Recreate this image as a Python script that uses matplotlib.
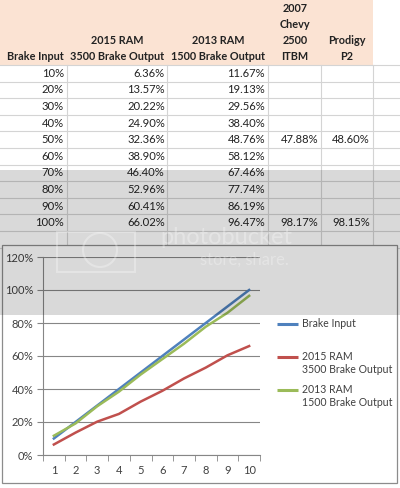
import matplotlib
matplotlib.use("Agg")
import matplotlib.pyplot as plt
from matplotlib.patches import Rectangle, Circle

brake_input = [10, 20, 30, 40, 50, 60, 70, 80, 90, 100]
ram_2015 = [6.36, 13.57, 20.22, 24.90, 32.36, 38.90, 46.40, 52.96, 60.41, 66.02]
ram_2013 = [11.67, 19.13, 29.56, 38.40, 48.76, 58.12, 67.46, 77.74, 86.19, 96.47]
chevy_2007 = [None, None, None, None, 47.88, None, None, None, None, 98.17]
prodigy_p2 = [None, None, None, None, 48.60, None, None, None, None, 98.15]
x_labels = [str(i) for i in range(1, 11)]
series_names = ["Brake Input", "2015 RAM\n3500 Brake Output", "2013 RAM\n1500 Brake Output"]

plt.rcParams['font.family'] = ['Lato', 'DejaVu Sans']

W, H = 400, 488
fig = plt.figure(figsize=(W / 100, H / 100), dpi=100)

# background axis in pixel coords for the spreadsheet part
bg = fig.add_axes([0, 0, 1, 1])
bg.set_xlim(0, W)
bg.set_ylim(H, 0)
bg.axis("off")

grid_col = "#d4d4d4"
txt_col = "#222222"
fs = 7.8

# header fill
bg.add_patch(Rectangle((0, 0), 373, 65, color="#fbe3d3", lw=0))

row_top = 65
row_h = 16.6
col_lines = [67, 167, 268, 321, 373]
for k in range(12):
    y = row_top + k * row_h
    bg.plot([0, W], [y, y], color=grid_col, lw=0.8)
for x in col_lines:
    bg.plot([x, x], [row_top, row_top + 11 * row_h], color=grid_col, lw=0.8)

# header text
hdr = dict(fontsize=fs, fontweight="bold", color=txt_col, va="center")
bg.text(64, 57, "Brake Input", ha="right", **hdr)
bg.text(117, 41, "2015 RAM", ha="center", **hdr)
bg.text(117, 57, "3500 Brake Output", ha="center", **hdr)
bg.text(218, 41, "2013 RAM", ha="center", **hdr)
bg.text(218, 57, "1500 Brake Output", ha="center", **hdr)
for yy, s in zip([8, 24, 41, 57], ["2007", "Chevy", "2500", "ITBM"]):
    bg.text(295, yy, s, ha="center", **hdr)
bg.text(347, 41, "Prodigy", ha="center", **hdr)
bg.text(347, 57, "P2", ha="center", **hdr)

cell = dict(fontsize=8.1, color=txt_col, va="center", ha="right")
for i in range(10):
    y = row_top + i * row_h + row_h / 2
    bg.text(64, y, f"{brake_input[i]}%", **cell)
    bg.text(165, y, f"{ram_2015[i]:.2f}%", **cell)
    bg.text(265, y, f"{ram_2013[i]:.2f}%", **cell)
    if chevy_2007[i] is not None:
        bg.text(318, y, f"{chevy_2007[i]:.2f}%", **cell)
    if prodigy_p2[i] is not None:
        bg.text(370, y, f"{prodigy_p2[i]:.2f}%", **cell)

# chart area box
bg.add_patch(Rectangle((2, 245), 395, 238, facecolor="white",
                       edgecolor="#8c8c8c", lw=0.9, zorder=3))

# the line chart
ax = fig.add_axes([43 / W, 1 - 455 / H, 217 / W, 198 / H], zorder=4)
ax.patch.set_alpha(0)
xs = list(range(1, 11))
colors = ["#4f81bd", "#c0504d", "#9bbb59"]
for vals, c in zip([brake_input, ram_2015, ram_2013], colors):
    ax.plot(xs, vals, color=c, lw=1.8)
ax.set_xlim(0.5, 10.5)
ax.set_ylim(0, 120)
ax.set_yticks(range(0, 121, 20))
ax.set_yticklabels([f"{v}%" for v in range(0, 121, 20)])
ax.set_xticks(xs)
ax.set_xticklabels(x_labels)
ax.set_xticks([i + 0.5 for i in range(0, 11)], minor=True)
ax.tick_params(axis="x", which="major", length=0, pad=7, labelsize=8, labelcolor="#404040")
ax.tick_params(axis="x", which="minor", length=4, color="#868686", direction="out")
ax.tick_params(axis="y", length=4, color="#868686", labelsize=8, labelcolor="#404040", pad=3)
ax.grid(axis="y", color="#868686", lw=0.8)
ax.set_axisbelow(True)
for s in ["top", "right"]:
    ax.spines[s].set_visible(False)
for s in ["left", "bottom"]:
    ax.spines[s].set_color("#868686")
    ax.spines[s].set_linewidth(0.8)

# legend, Excel style: key lines up with the first text line
for k, (name, c) in enumerate(zip(series_names, colors)):
    ly = 324 + 33 * k
    bg.plot([277, 298], [ly, ly], color=c, lw=2.2, zorder=5, solid_capstyle="butt")
    bg.text(302, ly - 6, name, fontsize=7.6, color="#404040", va="top", ha="left",
            linespacing=1.25, zorder=5)

# grey watermark band from the screenshot
ov = fig.add_axes([0, 0, 1, 1], zorder=10)
ov.set_xlim(0, W)
ov.set_ylim(H, 0)
ov.axis("off")
ov.patch.set_alpha(0)
ov.add_patch(Rectangle((0, 170), W, 145, color="black", alpha=0.15, lw=0))
ov.text(160, 238, "photobucket", fontsize=17, color="white", alpha=0.3,
        va="center", ha="left")
ov.text(200, 260, "store, share.", fontsize=12, color="white", alpha=0.3,
        va="center", ha="left")
ov.add_patch(Rectangle((57, 232), 78, 40, fill=False, edgecolor="white", alpha=0.3, lw=1.5))
ov.add_patch(Circle((100, 250), 17, fill=False, edgecolor="white", alpha=0.3, lw=1.5))

fig.savefig("out.png", dpi=100)
